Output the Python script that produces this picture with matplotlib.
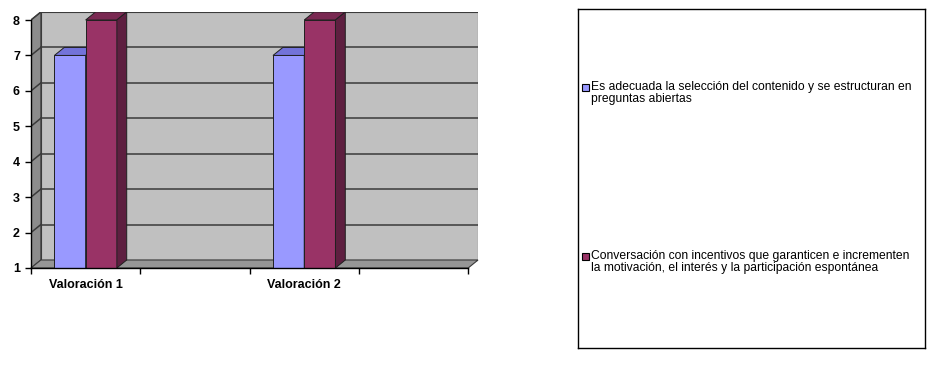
import numpy as np
import matplotlib.pyplot as plt
from matplotlib.patches import Polygon, Rectangle

# DATA
categories = ["Valoración 1", "", "Valoración 2", ""]
serie_contenido = [7, np.nan, 7, np.nan]
serie_conversacion = [8, np.nan, 8, np.nan]
series_labels = [
    "Es adecuada la selección del contenido y se estructuran en\npreguntas abiertas",
    "Conversación con incentivos que garanticen e incrementen\nla motivación, el interés y la participación espontánea",
]
y_ticks = [1, 2, 3, 4, 5, 6, 7, 8]

# STYLE
front_colors = ["#9999ff", "#993366"]
top_colors = ["#7373d9", "#7a2952"]
side_colors = ["#5c5cb0", "#5e1f40"]
wall_color = "#c0c0c0"
side_wall_color = "#8c8c8c"
floor_color = "#969696"
grid_color = "#3a3a3a"

plt.rcParams['font.family'] = ['Liberation Sans', 'DejaVu Sans']

fig = plt.figure(figsize=(9.31, 3.75), dpi=100)
ax = fig.add_axes([31 / 931, 1 - 268 / 375, 447 / 931, 256 / 375])

n = len(categories)
ymin, ymax = y_ticks[0], y_ticks[-1]
dx, dy = 0.09, 0.226   # depth offset of the 3D look
bw = 1 / 3.5           # bar width (gap 150%)

ax.set_xlim(0, n + dx)
ax.set_ylim(ymin, ymax + dy)
ax.set_facecolor("none")

# WALLS
ax.add_patch(Polygon([(dx, ymin + dy), (n + dx, ymin + dy), (n + dx, ymax + dy), (dx, ymax + dy)],
                     closed=True, facecolor=wall_color, edgecolor=grid_color, lw=0.8, zorder=1))
ax.add_patch(Polygon([(0, ymin), (dx, ymin + dy), (dx, ymax + dy), (0, ymax)],
                     closed=True, facecolor=side_wall_color, edgecolor=grid_color, lw=0.8, zorder=1))
ax.add_patch(Polygon([(0, ymin), (n, ymin), (n + dx, ymin + dy), (dx, ymin + dy)],
                     closed=True, facecolor=floor_color, edgecolor=grid_color, lw=0.8, zorder=1, clip_on=False))

# GRIDLINES
for v in y_ticks[1:]:
    ax.plot([dx, n + dx], [v + dy, v + dy], color=grid_color, lw=1.1, zorder=2)
    ax.plot([0, dx], [v, v + dy], color=grid_color, lw=1.1, zorder=2)

# BARS
for i in range(n):
    for s, vals in enumerate([serie_contenido, serie_conversacion]):
        v = vals[i]
        if np.isnan(v):
            continue
        x0 = i + 0.5 - bw + s * bw
        x1 = x0 + bw
        ax.bar(x0, v - ymin, width=bw, bottom=ymin, align="edge",
               color=front_colors[s], edgecolor="#202020", lw=0.7, zorder=3 + s)
        ax.add_patch(Polygon([(x0, v), (x1, v), (x1 + dx, v + dy), (x0 + dx, v + dy)],
                             closed=True, facecolor=top_colors[s], edgecolor="#202020",
                             lw=0.7, zorder=3 + s))
        ax.add_patch(Polygon([(x1, ymin), (x1 + dx, ymin + dy), (x1 + dx, v + dy), (x1, v)],
                             closed=True, facecolor=side_colors[s], edgecolor="#202020",
                             lw=0.7, zorder=3 + s))

# AXES
for side in ["top", "right"]:
    ax.spines[side].set_visible(False)
ax.spines["left"].set_bounds(ymin, ymax)
ax.spines["bottom"].set_bounds(0, n)
ax.spines["left"].set_zorder(6)
ax.spines["bottom"].set_zorder(6)
ax.spines["left"].set_linewidth(1.0)
ax.spines["bottom"].set_linewidth(1.0)

ax.set_yticks(y_ticks)
ax.set_yticklabels([str(t) for t in y_ticks], fontsize=9, fontweight="bold")
ax.tick_params(axis="y", direction="out", length=4, width=1, pad=4)

ax.set_xticks(np.arange(n + 1))
ax.set_xticklabels([])
ax.set_xticks(np.arange(n) + 0.5, minor=True)
ax.set_xticklabels(categories, minor=True, fontsize=9, fontweight="bold")
ax.tick_params(axis="x", which="major", direction="out", length=4, width=1)
ax.tick_params(axis="x", which="minor", length=0, pad=8)

# LEGEND
lax = fig.add_axes([578 / 931, 1 - 348 / 375, 347 / 931, 339 / 375])
lax.set_xlim(0, 347)
lax.set_ylim(339, 0)
lax.set_xticks([])
lax.set_yticks([])
for sp in lax.spines.values():
    sp.set_linewidth(1.0)
    sp.set_color("black")
for s, (label, y) in enumerate(zip(series_labels, [78, 247])):
    lax.add_patch(Rectangle((3.5, y - 3.5), 7, 7, facecolor=front_colors[s],
                            edgecolor="black", lw=0.8))
    lax.text(13, y - 6, label, fontsize=8.7, va="top", ha="left", linespacing=1.05)

fig.savefig("out.png", dpi=100)
